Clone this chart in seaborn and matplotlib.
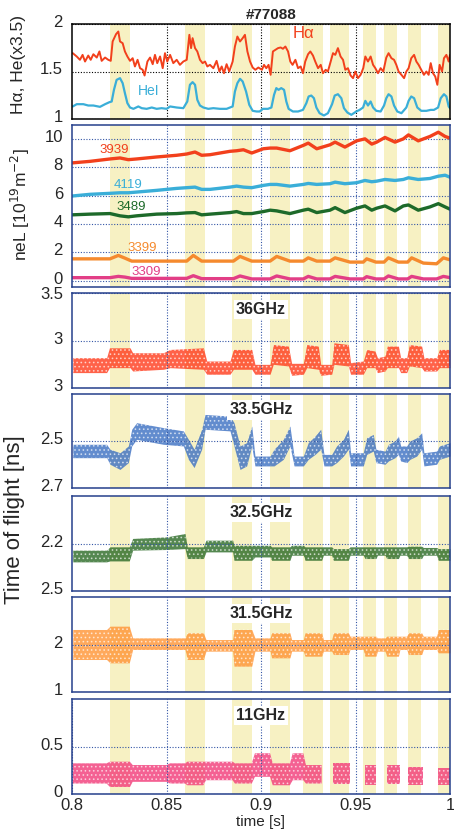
import numpy as np
import matplotlib
matplotlib.use('Agg')
import matplotlib.pyplot as plt
import matplotlib.transforms as mtransforms
import seaborn as sns

sns.set_theme(style='white')
plt.rcParams['font.family'] = ['Liberation Sans', 'DejaVu Sans']
plt.rcParams['hatch.linewidth'] = 0.7

# ---------------- data ----------------
# shaded (yellow) time windows [s]
shade_start = [0.8200, 0.8600, 0.8848, 0.9050, 0.9224, 0.9365, 0.9541, 0.9651, 0.9776, 0.9935]
shade_end = [0.8305, 0.8704, 0.8951, 0.9152, 0.9326, 0.9467, 0.9608, 0.9721, 0.9845, 1.0000]

# H-alpha
t_ha = [0.8004, 0.8025, 0.8042, 0.8056, 0.8069, 0.8086, 0.8099, 0.8113, 0.8131, 0.8145,
        0.8157, 0.8175, 0.8192, 0.8205, 0.8215, 0.8233, 0.8245, 0.8254, 0.8268, 0.8280,
        0.8293, 0.8307, 0.8321, 0.8333, 0.8347, 0.8360, 0.8374, 0.8384, 0.8399, 0.8413,
        0.8427, 0.8439, 0.8451, 0.8466, 0.8480, 0.8492, 0.8504, 0.8519, 0.8536, 0.8554,
        0.8571, 0.8589, 0.8607, 0.8621, 0.8630, 0.8638, 0.8651, 0.8663, 0.8677, 0.8691,
        0.8704, 0.8716, 0.8730, 0.8748, 0.8765, 0.8780, 0.8792, 0.8804, 0.8818, 0.8832,
        0.8850, 0.8862, 0.8875, 0.8889, 0.8903, 0.8915, 0.8928, 0.8942, 0.8956, 0.8970,
        0.8986, 0.9005, 0.9016, 0.9028, 0.9040, 0.9051, 0.9063, 0.9076, 0.9090, 0.9104,
        0.9116, 0.9129, 0.9143, 0.9155, 0.9167, 0.9182, 0.9196, 0.9210, 0.9222, 0.9234,
        0.9249, 0.9261, 0.9275, 0.9287, 0.9302, 0.9316, 0.9328, 0.9342, 0.9354, 0.9369,
        0.9381, 0.9393, 0.9407, 0.9421, 0.9434, 0.9446, 0.9460, 0.9474, 0.9487, 0.9499,
        0.9513, 0.9527, 0.9541, 0.9552, 0.9566, 0.9580, 0.9593, 0.9605, 0.9619, 0.9633,
        0.9647, 0.9663, 0.9675, 0.9690, 0.9704, 0.9716, 0.9728, 0.9743, 0.9757, 0.9769,
        0.9781, 0.9795, 0.9810, 0.9822, 0.9834, 0.9848, 0.9862, 0.9875, 0.9887, 0.9898,
        0.9910, 0.9922, 0.9933, 0.9945, 0.9958, 0.9968, 0.9981, 0.9993, 1.0000]
ha = [1.693, 1.658, 1.623, 1.675, 1.605, 1.668, 1.623, 1.682, 1.647, 1.711,
      1.612, 1.647, 1.623, 1.612, 1.816, 1.893, 1.921, 1.816, 1.798, 1.711,
      1.658, 1.612, 1.640, 1.553, 1.623, 1.535, 1.518, 1.458, 1.605, 1.647,
      1.577, 1.675, 1.588, 1.658, 1.535, 1.693, 1.605, 1.675, 1.588, 1.623,
      1.570, 1.605, 1.623, 1.886, 1.746, 1.851, 1.746, 1.711, 1.623, 1.588,
      1.605, 1.553, 1.570, 1.535, 1.612, 1.500, 1.553, 1.482, 1.577, 1.500,
      1.605, 1.763, 1.868, 1.816, 1.851, 1.886, 1.711, 1.605, 1.542, 1.518,
      1.542, 1.518, 1.570, 1.535, 1.570, 1.465, 1.711, 1.728, 1.746, 1.753,
      1.739, 1.763, 1.711, 1.605, 1.570, 1.623, 1.535, 1.553, 1.482, 1.605,
      1.682, 1.711, 1.668, 1.605, 1.535, 1.570, 1.482, 1.518, 1.500, 1.605,
      1.693, 1.675, 1.746, 1.658, 1.623, 1.518, 1.535, 1.458, 1.430, 1.500,
      1.430, 1.465, 1.535, 1.658, 1.605, 1.658, 1.570, 1.535, 1.482, 1.535,
      1.500, 1.647, 1.693, 1.640, 1.623, 1.570, 1.500, 1.465, 1.430, 1.500,
      1.535, 1.640, 1.675, 1.605, 1.570, 1.518, 1.465, 1.500, 1.465, 1.588,
      1.482, 1.447, 1.360, 1.570, 1.500, 1.640, 1.675, 1.605, 1.675]

# HeI (x3.5)
t_he = [0.8004, 0.8025, 0.8060, 0.8086, 0.8113, 0.8148, 0.8175, 0.8198, 0.8210, 0.8222,
        0.8236, 0.8254, 0.8268, 0.8280, 0.8293, 0.8307, 0.8325, 0.8351, 0.8369, 0.8395,
        0.8422, 0.8448, 0.8474, 0.8501, 0.8519, 0.8554, 0.8589, 0.8610, 0.8624, 0.8638,
        0.8651, 0.8663, 0.8677, 0.8695, 0.8721, 0.8748, 0.8783, 0.8818, 0.8850, 0.8862,
        0.8875, 0.8889, 0.8903, 0.8921, 0.8938, 0.8956, 0.8977, 0.8993, 0.9010, 0.9037,
        0.9055, 0.9069, 0.9081, 0.9093, 0.9107, 0.9122, 0.9134, 0.9146, 0.9169, 0.9196,
        0.9222, 0.9240, 0.9252, 0.9266, 0.9280, 0.9293, 0.9310, 0.9333, 0.9354, 0.9376,
        0.9390, 0.9407, 0.9425, 0.9439, 0.9457, 0.9478, 0.9504, 0.9522, 0.9540, 0.9552,
        0.9566, 0.9580, 0.9593, 0.9610, 0.9633, 0.9651, 0.9663, 0.9675, 0.9690, 0.9704,
        0.9721, 0.9743, 0.9769, 0.9781, 0.9795, 0.9810, 0.9827, 0.9848, 0.9875, 0.9898,
        0.9915, 0.9937, 0.9951, 0.9968, 0.9981, 0.9993, 1.0000]
he = [1.132, 1.156, 1.156, 1.142, 1.142, 1.128, 1.156, 1.177, 1.184, 1.307,
      1.412, 1.430, 1.377, 1.272, 1.167, 1.121, 1.107, 1.132, 1.114, 1.107,
      1.121, 1.107, 1.114, 1.107, 1.132, 1.121, 1.114, 1.184, 1.360, 1.388,
      1.360, 1.202, 1.142, 1.121, 1.107, 1.114, 1.107, 1.107, 1.132, 1.289,
      1.377, 1.423, 1.395, 1.289, 1.149, 1.086, 1.079, 1.079, 1.107, 1.107,
      1.121, 1.254, 1.325, 1.307, 1.325, 1.307, 1.184, 1.107, 1.079, 1.079,
      1.096, 1.167, 1.237, 1.247, 1.219, 1.121, 1.061, 1.037, 1.061, 1.156,
      1.247, 1.261, 1.219, 1.114, 1.068, 1.044, 1.079, 1.096, 1.121, 1.191,
      1.142, 1.184, 1.121, 1.086, 1.079, 1.142, 1.219, 1.261, 1.237, 1.142,
      1.079, 1.061, 1.121, 1.191, 1.237, 1.219, 1.121, 1.086, 1.086, 1.096,
      1.096, 1.121, 1.219, 1.261, 1.237, 1.132, 1.114]

# line-integrated density, chords 3939 / 4119 / 3489
t_ne = [0.8000, 0.8095, 0.8201, 0.8254, 0.8298, 0.8342, 0.8448, 0.8554, 0.8607, 0.8651,
        0.8686, 0.8730, 0.8836, 0.8871, 0.8907, 0.8951, 0.9012, 0.9048, 0.9083, 0.9153,
        0.9224, 0.9250, 0.9295, 0.9365, 0.9392, 0.9444, 0.9506, 0.9550, 0.9586, 0.9612,
        0.9656, 0.9709, 0.9753, 0.9780, 0.9832, 0.9894, 0.9938, 0.9974, 1.0000]
ne_3939 = [8.32, 8.43, 8.60, 8.67, 8.55, 8.60, 8.74, 8.86, 8.95, 9.09,
           8.86, 8.90, 9.14, 9.18, 9.25, 9.02, 9.32, 9.37, 9.37, 9.18,
           9.56, 9.72, 9.32, 9.60, 9.79, 9.44, 9.88, 10.02, 9.65, 9.79,
           10.12, 9.79, 10.02, 10.30, 9.88, 10.19, 10.49, 10.19, 10.07]
ne_4119 = [5.98, 6.10, 6.17, 6.21, 6.21, 6.26, 6.38, 6.52, 6.57, 6.61,
           6.45, 6.45, 6.61, 6.68, 6.61, 6.57, 6.73, 6.80, 6.80, 6.68,
           6.80, 6.87, 6.80, 6.85, 6.96, 6.85, 6.92, 7.08, 6.99, 7.03,
           7.15, 7.08, 7.15, 7.27, 7.15, 7.22, 7.38, 7.45, 7.31]
ne_3489 = [4.65, 4.70, 4.74, 4.58, 4.51, 4.58, 4.70, 4.74, 4.79, 4.81,
           4.65, 4.70, 4.81, 4.88, 4.74, 4.74, 4.88, 4.98, 4.93, 4.74,
           4.98, 5.05, 4.81, 4.98, 5.16, 4.81, 5.12, 5.28, 4.98, 5.12,
           5.28, 4.93, 5.28, 5.35, 4.98, 5.21, 5.44, 5.21, 5.05]

# chords 3399 / 3309
t_ne_low = [0.8000, 0.8201, 0.8245, 0.8280, 0.8316, 0.8607, 0.8642, 0.8686, 0.8854, 0.8889,
            0.8951, 0.9048, 0.9083, 0.9153, 0.9224, 0.9250, 0.9295, 0.9365, 0.9392, 0.9471,
            0.9541, 0.9559, 0.9608, 0.9651, 0.9674, 0.9727, 0.9776, 0.9797, 0.9859, 0.9929,
            0.9965, 1.0000]
ne_3399 = [1.54, 1.54, 1.78, 1.59, 1.38, 1.38, 1.78, 1.38, 1.38, 1.71,
           1.38, 1.38, 1.71, 1.38, 1.38, 1.61, 1.38, 1.38, 1.61, 1.31,
           1.31, 1.54, 1.31, 1.31, 1.61, 1.31, 1.31, 1.61, 1.24, 1.19,
           1.61, 1.47]
ne_3309 = [0.21, 0.21, 0.30, 0.25, 0.16, 0.16, 0.35, 0.14, 0.14, 0.33,
           0.12, 0.12, 0.33, 0.12, 0.12, 0.30, 0.12, 0.12, 0.30, 0.12,
           0.12, 0.28, 0.12, 0.12, 0.33, 0.12, 0.12, 0.30, 0.12, 0.12,
           0.30, 0.21]

# time of flight clouds: envelope of the dense scatter (upper / lower)
t_36 = [0.8004, 0.8183, 0.8198, 0.8307, 0.8321, 0.8483, 0.8519, 0.8695, 0.8713, 0.8836,
        0.8854, 0.8951, 0.8968, 0.9048, 0.9065, 0.9145, 0.9162, 0.9224, 0.9242, 0.9303,
        0.9316, 0.9374, 0.9386, 0.9462, 0.9474, 0.9541, 0.9559, 0.9603, 0.9616, 0.9656,
        0.9668, 0.9727, 0.9739, 0.9771, 0.9785, 0.9850, 0.9862, 0.9929, 0.9944, 1.0000]
tof_36_hi = [2.819, 2.819, 2.923, 2.923, 2.871, 2.871, 2.906, 2.923, 2.784, 2.784,
             2.906, 2.906, 2.749, 2.749, 2.958, 2.941, 2.760, 2.760, 2.958, 2.941,
             2.749, 2.749, 2.976, 2.958, 2.767, 2.784, 2.906, 2.889, 2.819, 2.836,
             2.941, 2.941, 2.819, 2.819, 2.958, 2.941, 2.819, 2.819, 2.906, 2.906]
tof_36_lo = [2.662, 2.662, 2.714, 2.714, 2.679, 2.697, 2.714, 2.697, 2.645, 2.645,
             2.697, 2.697, 2.645, 2.645, 2.749, 2.732, 2.634, 2.645, 2.714, 2.697,
             2.634, 2.645, 2.749, 2.732, 2.645, 2.645, 2.714, 2.714, 2.662, 2.679,
             2.714, 2.714, 2.662, 2.662, 2.732, 2.714, 2.679, 2.679, 2.714, 2.714]

t_335 = [0.8004, 0.8183, 0.8201, 0.8254, 0.8298, 0.8316, 0.8342, 0.8483, 0.8589, 0.8616,
         0.8646, 0.8686, 0.8704, 0.8836, 0.8857, 0.8889, 0.8924, 0.8951, 0.8968, 0.9048,
         0.9069, 0.9118, 0.9153, 0.9175, 0.9224, 0.9250, 0.9286, 0.9316, 0.9333, 0.9374,
         0.9400, 0.9436, 0.9462, 0.9474, 0.9541, 0.9559, 0.9594, 0.9608, 0.9656, 0.9674,
         0.9709, 0.9727, 0.9739, 0.9771, 0.9788, 0.9824, 0.9850, 0.9862, 0.9929, 0.9944,
         1.0000]
tof_335_hi = [2.514, 2.514, 2.535, 2.550, 2.521, 2.450, 2.422, 2.443, 2.457, 2.493,
              2.535, 2.450, 2.387, 2.394, 2.422, 2.521, 2.507, 2.436, 2.564, 2.564,
              2.535, 2.493, 2.436, 2.564, 2.564, 2.507, 2.479, 2.450, 2.557, 2.557,
              2.521, 2.493, 2.450, 2.550, 2.550, 2.486, 2.472, 2.535, 2.543, 2.514,
              2.500, 2.479, 2.521, 2.521, 2.500, 2.486, 2.465, 2.550, 2.543, 2.521,
              2.507]
tof_335_lo = [2.571, 2.571, 2.599, 2.621, 2.592, 2.521, 2.493, 2.514, 2.521, 2.578,
              2.613, 2.535, 2.450, 2.457, 2.521, 2.621, 2.606, 2.521, 2.606, 2.606,
              2.606, 2.578, 2.521, 2.606, 2.606, 2.578, 2.557, 2.535, 2.606, 2.606,
              2.592, 2.564, 2.535, 2.606, 2.606, 2.557, 2.543, 2.592, 2.599, 2.585,
              2.571, 2.557, 2.585, 2.592, 2.578, 2.564, 2.535, 2.606, 2.599, 2.578,
              2.564]

t_seg = [0.8004, 0.8183, 0.8201, 0.8303, 0.8321, 0.8501, 0.8598, 0.8610, 0.8695, 0.8709,
         0.8850, 0.8857, 0.8951, 0.8968, 0.9048, 0.9056, 0.9153, 0.9162, 0.9224, 0.9233,
         0.9321, 0.9330, 0.9374, 0.9383, 0.9462, 0.9471, 0.9541, 0.9550, 0.9608, 0.9616,
         0.9656, 0.9665, 0.9727, 0.9735, 0.9771, 0.9780, 0.9850, 0.9859, 0.9929, 0.9938,
         1.0000]
tof_325_hi = [2.242, 2.242, 2.221, 2.221, 2.168, 2.158, 2.137, 2.221, 2.221, 2.179,
              2.179, 2.211, 2.211, 2.211, 2.211, 2.221, 2.221, 2.211, 2.211, 2.221,
              2.221, 2.221, 2.221, 2.232, 2.232, 2.221, 2.221, 2.221, 2.221, 2.221,
              2.221, 2.221, 2.221, 2.221, 2.221, 2.217, 2.217, 2.225, 2.225, 2.232,
              2.232]
tof_325_lo = [2.316, 2.316, 2.310, 2.310, 2.242, 2.238, 2.232, 2.295, 2.295, 2.253,
              2.253, 2.306, 2.306, 2.285, 2.285, 2.306, 2.306, 2.274, 2.274, 2.306,
              2.306, 2.274, 2.274, 2.306, 2.306, 2.274, 2.274, 2.295, 2.295, 2.274,
              2.274, 2.295, 2.295, 2.274, 2.274, 2.295, 2.295, 2.274, 2.274, 2.306,
              2.306]
tof_315_hi = [2.316, 2.316, 2.386, 2.386, 2.140, 2.140, 2.140, 2.246, 2.246, 2.105,
              2.105, 2.316, 2.316, 2.140, 2.140, 2.246, 2.246, 2.105, 2.105, 2.246,
              2.246, 2.105, 2.105, 2.246, 2.246, 2.175, 2.175, 2.175, 2.175, 2.140,
              2.140, 2.175, 2.175, 2.175, 2.175, 2.246, 2.246, 2.175, 2.175, 2.316,
              2.316]
tof_315_lo = [1.684, 1.684, 1.614, 1.614, 1.895, 1.895, 1.895, 1.684, 1.684, 1.860,
              1.860, 1.544, 1.544, 1.860, 1.860, 1.719, 1.719, 1.860, 1.860, 1.754,
              1.754, 1.860, 1.860, 1.789, 1.789, 1.895, 1.895, 1.754, 1.754, 1.860,
              1.860, 1.754, 1.754, 1.895, 1.895, 1.789, 1.789, 1.895, 1.895, 1.825,
              1.825]

t_11 = [0.8004, 0.8183, 0.8201, 0.8307, 0.8321, 0.8501, 0.8519, 0.8598, 0.8610, 0.8695,
        0.8709, 0.8850, 0.8862, 0.8951, 0.8968, 0.9048, 0.9062, 0.9153, 0.9168, 0.9224,
        0.9238, 0.9321, 0.9339, 0.9383, 0.9471, 0.9506, 0.9550, 0.9608, 0.9630, 0.9665,
        0.9735, 0.9753, 0.9780, 0.9855, 0.9894, 0.9938, 1.0000]
nan = np.nan
tof_11_hi = [0.323, 0.323, 0.340, 0.340, 0.305, 0.305, 0.323, 0.323, 0.340, 0.340,
             0.340, 0.340, 0.323, 0.323, 0.429, 0.429, 0.323, 0.323, 0.429, 0.429,
             0.305, 0.305, nan, 0.323, 0.323, nan, 0.305, 0.305, nan, 0.305,
             0.305, nan, 0.287, 0.287, nan, 0.270, 0.270]
tof_11_lo = [0.110, 0.110, 0.074, 0.074, 0.128, 0.128, 0.110, 0.110, 0.092, 0.092,
             0.145, 0.145, 0.110, 0.110, 0.181, 0.181, 0.092, 0.092, 0.145, 0.145,
             0.110, 0.110, nan, 0.110, 0.110, nan, 0.092, 0.092, nan, 0.110,
             0.110, nan, 0.092, 0.092, nan, 0.092, 0.092]

# ---------------- figure ----------------
fig = plt.figure(figsize=(4.54, 8.32), dpi=100)
W, H = 454, 832
FRAME = '#26408c'
GRID = '#3456a6'
SHADE = '#f7f1c3'
lift = mtransforms.ScaledTranslation(0, 0.03, fig.dpi_scale_trans)


def make_ax(top, bottom, frame=FRAME, grid=GRID):
    ax = fig.add_axes([72 / W, 1 - bottom / H, 378 / W, (bottom - top) / H])
    ax.set_xlim(0.8, 1.0)
    for s0, s1 in zip(shade_start, shade_end):
        ax.axvspan(s0, s1, color=SHADE, lw=0, zorder=0)
    for sp in ax.spines.values():
        sp.set_color(frame)
        sp.set_linewidth(1.1)
        sp.set_zorder(5)
    ax.set_xticks([0.85, 0.9, 0.95])
    ax.grid(True, color=grid, ls=(0, (1, 1.5)), lw=0.8)
    ax.set_axisbelow(False)
    ax.tick_params(length=0, labelsize=12, pad=6.5)
    ax.tick_params(axis='x', labelbottom=False)
    return ax


def set_yticks(ax, ticks, labels, keep_top=False):
    ax.set_yticks(ticks)
    ax.set_yticklabels(labels)
    ticklabs = ax.get_yticklabels()
    if keep_top:
        ticklabs = ticklabs[:-1]
    for lab in ticklabs:
        lab.set_transform(lab.get_transform() + lift)


def cloud(ax, t, hi, lo, color):
    ax.fill_between(t, lo, hi, facecolor=color, alpha=0.8, lw=0, zorder=2)
    ax.fill_between(t, lo, hi, facecolor='none', edgecolor='white', hatch='....',
                    lw=0, zorder=2, alpha=0.6)


# Panel 1: H-alpha / HeI
ax1 = make_ax(24, 119, frame='black', grid='black')
sns.lineplot(x=t_ha, y=ha, ax=ax1, color='#f2401c', lw=1.4, zorder=3)
sns.lineplot(x=t_he, y=he, ax=ax1, color='#3aaed8', lw=1.6, zorder=3)
ax1.set_ylim(1, 2)
set_yticks(ax1, [1, 1.5, 2], ['1', '1.5', '2'])
ax1.set_xlabel('')
ax1.set_ylabel('')
ax1.text(0.9222, 1.90, 'H\u03b1', color='#f2401c', fontsize=12, ha='center', va='center')
ax1.text(0.8407, 1.295, 'HeI', color='#3aaed8', fontsize=10, ha='center', va='center')
fig.text(271 / W, 1 - 15 / H, '#77088', fontsize=11, fontweight='bold', ha='center', va='center')
fig.text(19 / W, 1 - 65 / H, 'H\u03b1, He(x3.5)', rotation=90, fontsize=12.5, ha='center', va='center')

# Panel 2: neL
ax2 = make_ax(125, 287)
ne_lines = [(t_ne, ne_3939, '#f2401c', '3939', 0.8222, 9.25),
            (t_ne, ne_4119, '#3aaed8', '4119', 0.8296, 6.76),
            (t_ne, ne_3489, '#1d6a2a', '3489', 0.8315, 5.20),
            (t_ne_low, ne_3399, '#f58a2e', '3399', 0.8370, 2.31),
            (t_ne_low, ne_3309, '#e23e86', '3309', 0.8392, 0.61)]
for tt, vv, col, lab, lx, ly in ne_lines:
    sns.lineplot(x=tt, y=vv, ax=ax2, color=col, lw=2.4, zorder=3)
    ax2.text(lx, ly, lab, color=col, fontsize=9.5, ha='center', va='center')
ax2.set_ylim(-0.45, 11)
set_yticks(ax2, [0, 2, 4, 6, 8, 10], ['0', '2', '4', '6', '8', '10'])
ax2.set_xlabel('')
ax2.set_ylabel('')
fig.text(20 / W, 1 - 205 / H, 'neL [10$^{19}$m$^{-2}$]', rotation=90, fontsize=12.5, ha='center', va='center')

# Time of flight panels
tof_panels = [
    (293, 388, t_36, tof_36_hi, tof_36_lo, '#ff3b1c', '36GHz', (2.5, 3.5), [2.5, 3.0, 3.5], ['3', '3', '3.5']),
    (394, 488, t_335, tof_335_hi, tof_335_lo, '#3b6fc2', '33.5GHz', (2.7, 2.3), [2.7, 2.5], ['2.7', '2.5']),
    (496, 591, t_seg, tof_325_hi, tof_325_lo, '#2a6a26', '32.5GHz', (2.5, 1.9), [2.5, 2.2], ['2.5', '2.2']),
    (597, 692, t_seg, tof_315_hi, tof_315_lo, '#ff9433', '31.5GHz', (1, 3), [1, 2], ['1', '2']),
    (699, 794, t_11, tof_11_hi, tof_11_lo, '#f23a78', '11GHz', (0, 1), [0, 0.5], ['0', '0.5']),
]
axes_tof = []
for i, (top, bot, tt, hi, lo, col, name, ylim, yt, ytl) in enumerate(tof_panels):
    ax = make_ax(top, bot)
    cloud(ax, tt, hi, lo, col)
    ax.set_ylim(*ylim)
    set_yticks(ax, yt, ytl, keep_top=(i == 0))
    ax.text(0.5, 0.83, name, transform=ax.transAxes, fontsize=11.5, fontweight='bold',
            ha='center', va='center', zorder=6,
            bbox=dict(facecolor='white', edgecolor='none', pad=1.5))
    axes_tof.append(ax)

ax_last = axes_tof[-1]
ax_last.set_xticks([0.8, 0.85, 0.9, 0.95, 1.0])
ax_last.set_xticklabels(['0.8', '0.85', '0.9', '0.95', '1'])
ax_last.tick_params(axis='x', labelbottom=True, labelsize=12, pad=3)
ax_last.set_xlabel('time [s]', fontsize=11, labelpad=1)
fig.text(15 / W, 1 - 520 / H, 'Time of flight [ns]', rotation=90, fontsize=16, ha='center', va='center')

fig.savefig('out.png', dpi=100)
